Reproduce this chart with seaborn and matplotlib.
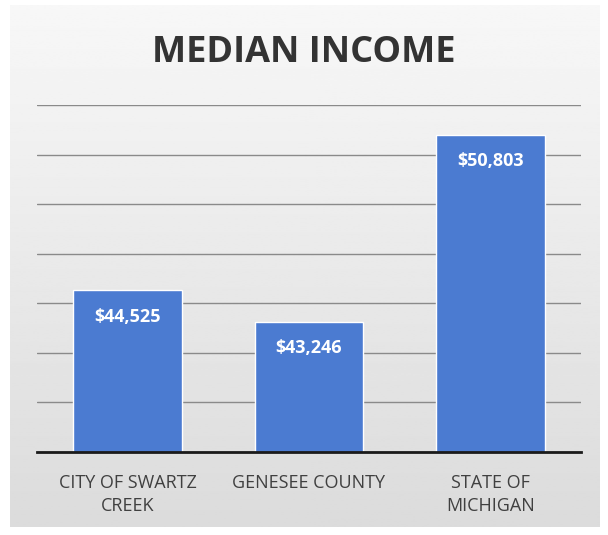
import matplotlib
matplotlib.use("Agg")
import matplotlib.pyplot as plt
import seaborn as sns
import numpy as np
import pandas as pd

# datos
lugares = ["CITY OF SWARTZ\nCREEK", "GENESEE COUNTY", "STATE OF\nMICHIGAN"]
ingresos = [44525, 43246, 50803]
etiquetas = ["$44,525", "$43,246", "$50,803"]
y_min, y_max, paso = 38000, 52000, 2000

df = pd.DataFrame({"Lugar": lugares, "Ingreso": ingresos})

sns.set_style("white")
plt.rcParams["font.family"] = ["Open Sans", "DejaVu Sans"]

fig = plt.figure(figsize=(6.08, 5.35), dpi=100)
fig.patch.set_facecolor("white")

# fondo gris con degradado (panel del grafico)
bg = fig.add_axes([10 / 608, 8 / 535, 590 / 608, 522 / 535])
grad = np.linspace(0.97, 0.86, 256).reshape(-1, 1)
bg.imshow(grad, cmap="gray", vmin=0, vmax=1, aspect="auto", extent=[0, 1, 0, 1])
bg.set_axis_off()

ax = fig.add_axes([37 / 608, 1 - 452 / 535, 544 / 608, 347 / 535])
ax.patch.set_alpha(0)
sns.barplot(data=df, x="Lugar", y="Ingreso", color="#4b7bd1", saturation=1,
            width=0.6, ax=ax, zorder=3)

ax.set_ylim(y_min, y_max)
ax.set_yticks(np.arange(y_min, y_max + 1, paso))
ax.yaxis.grid(True, color="#8a8a8a", linewidth=1.0, zorder=0)
ax.set_axisbelow(True)
ax.tick_params(axis="y", left=False, labelleft=False)
ax.tick_params(axis="x", bottom=False, labelsize=13, labelcolor="#404040", pad=12)
for lab in ax.get_xticklabels():
    lab.set_multialignment("center")
    lab.set_linespacing(1.4)
ax.set_xlabel("")
ax.set_ylabel("")
for s in ["left", "right", "top"]:
    ax.spines[s].set_visible(False)
ax.spines["bottom"].set_color("#1a1a1a")
ax.spines["bottom"].set_linewidth(2)
ax.spines["bottom"].set_zorder(4)

# etiquetas dentro de las barras
for i, (v, t) in enumerate(zip(ingresos, etiquetas)):
    ax.annotate(t, (i, v), xytext=(0, -19), textcoords="offset points",
                ha="center", va="center", color="white", fontsize=13,
                fontweight="bold", zorder=5)

fig.text(0.5, 1 - 53 / 535, "MEDIAN INCOME", ha="center", va="center",
         fontsize=26, fontweight="bold", color="#333333")

fig.savefig("out.png", dpi=100)
